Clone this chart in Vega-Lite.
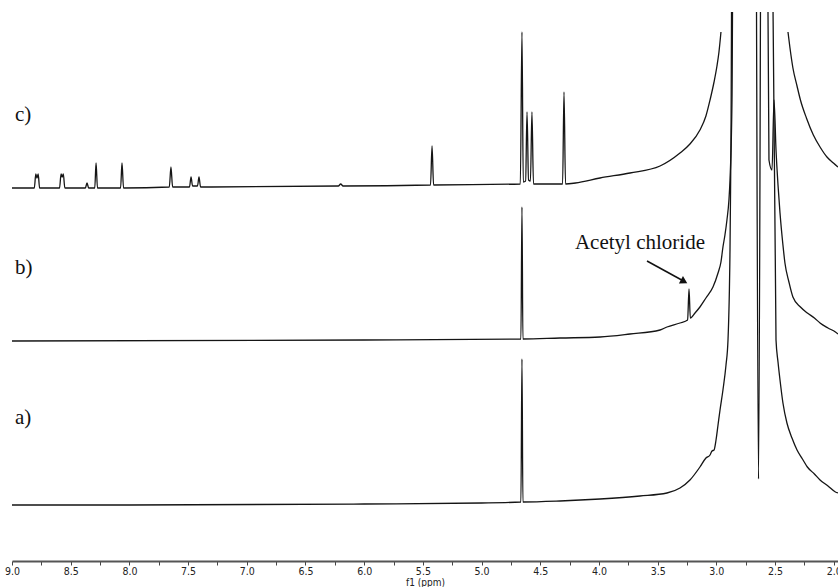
{
  "$schema": "https://vega.github.io/schema/vega-lite/v6.json",
  "width": 826,
  "height": 549,
  "autosize": {"type": "none"},
  "padding": {"left": 12, "top": 12, "right": 0, "bottom": 26},
  "background": "white",
  "config": {"view": {"stroke": null}},
  "datasets": {
    "spec": [
      {"curve": "a", "ppm": 9.0, "v": 60},
      {"curve": "a", "ppm": 8.0, "v": 60},
      {"curve": "a", "ppm": 6.0, "v": 61},
      {"curve": "a", "ppm": 5.0, "v": 62},
      {"curve": "a", "ppm": 4.665, "v": 63},
      {"curve": "a", "ppm": 4.656, "v": 206},
      {"curve": "a", "ppm": 4.648, "v": 63},
      {"curve": "a", "ppm": 4.332, "v": 64},
      {"curve": "a", "ppm": 3.991, "v": 66},
      {"curve": "a", "ppm": 3.651, "v": 69},
      {"curve": "a", "ppm": 3.421, "v": 72},
      {"curve": "a", "ppm": 3.31, "v": 77},
      {"curve": "a", "ppm": 3.225, "v": 85},
      {"curve": "a", "ppm": 3.14, "v": 98},
      {"curve": "a", "ppm": 3.089, "v": 107},
      {"curve": "a", "ppm": 3.054, "v": 110},
      {"curve": "a", "ppm": 3.037, "v": 114},
      {"curve": "a", "ppm": 3.02, "v": 115},
      {"curve": "a", "ppm": 3.003, "v": 125},
      {"curve": "a", "ppm": 2.986, "v": 140},
      {"curve": "a", "ppm": 2.969, "v": 155},
      {"curve": "a", "ppm": 2.944, "v": 175},
      {"curve": "a", "ppm": 2.918, "v": 200},
      {"curve": "a", "ppm": 2.901, "v": 225},
      {"curve": "a", "ppm": 2.884, "v": 315},
      {"curve": "a", "ppm": 2.876, "v": 415},
      {"curve": "a", "ppm": 2.859, "v": 865},
      {"curve": "a", "ppm": 2.671, "v": 865},
      {"curve": "a", "ppm": 2.641, "v": 86},
      {"curve": "a", "ppm": 2.612, "v": 865},
      {"curve": "a", "ppm": 2.543, "v": 865},
      {"curve": "a", "ppm": 2.492, "v": 225},
      {"curve": "a", "ppm": 2.475, "v": 203},
      {"curve": "a", "ppm": 2.458, "v": 185},
      {"curve": "a", "ppm": 2.433, "v": 162},
      {"curve": "a", "ppm": 2.399, "v": 142},
      {"curve": "a", "ppm": 2.356, "v": 127},
      {"curve": "a", "ppm": 2.313, "v": 115},
      {"curve": "a", "ppm": 2.267, "v": 106},
      {"curve": "a", "ppm": 2.225, "v": 98},
      {"curve": "a", "ppm": 2.165, "v": 91},
      {"curve": "a", "ppm": 2.117, "v": 85},
      {"curve": "a", "ppm": 2.049, "v": 79},
      {"curve": "a", "ppm": 1.986, "v": 73},
      {"curve": "a", "ppm": 1.964, "v": 72},

      {"curve": "b", "ppm": 9.0, "v": 224},
      {"curve": "b", "ppm": 6.0, "v": 225},
      {"curve": "b", "ppm": 4.665, "v": 226},
      {"curve": "b", "ppm": 4.656, "v": 358},
      {"curve": "b", "ppm": 4.648, "v": 226},
      {"curve": "b", "ppm": 4.332, "v": 227},
      {"curve": "b", "ppm": 3.991, "v": 228},
      {"curve": "b", "ppm": 3.736, "v": 231},
      {"curve": "b", "ppm": 3.48, "v": 235},
      {"curve": "b", "ppm": 3.421, "v": 238},
      {"curve": "b", "ppm": 3.31, "v": 242},
      {"curve": "b", "ppm": 3.245, "v": 245},
      {"curve": "b", "ppm": 3.233, "v": 276},
      {"curve": "b", "ppm": 3.222, "v": 247},
      {"curve": "b", "ppm": 3.182, "v": 252},
      {"curve": "b", "ppm": 3.14, "v": 258},
      {"curve": "b", "ppm": 3.089, "v": 267},
      {"curve": "b", "ppm": 3.029, "v": 278},
      {"curve": "b", "ppm": 2.986, "v": 292},
      {"curve": "b", "ppm": 2.961, "v": 303},
      {"curve": "b", "ppm": 2.944, "v": 318},
      {"curve": "b", "ppm": 2.927, "v": 330},
      {"curve": "b", "ppm": 2.91, "v": 345},
      {"curve": "b", "ppm": 2.893, "v": 365},
      {"curve": "b", "ppm": 2.884, "v": 385},
      {"curve": "b", "ppm": 2.867, "v": 465},
      {"curve": "b", "ppm": 2.85, "v": 865},
      {"curve": "b", "ppm": 2.578, "v": 865},
      {"curve": "b", "ppm": 2.552, "v": 405},
      {"curve": "b", "ppm": 2.526, "v": 395},
      {"curve": "b", "ppm": 2.509, "v": 465},
      {"curve": "b", "ppm": 2.492, "v": 415},
      {"curve": "b", "ppm": 2.475, "v": 380},
      {"curve": "b", "ppm": 2.458, "v": 352},
      {"curve": "b", "ppm": 2.433, "v": 320},
      {"curve": "b", "ppm": 2.416, "v": 302},
      {"curve": "b", "ppm": 2.382, "v": 283},
      {"curve": "b", "ppm": 2.348, "v": 268},
      {"curve": "b", "ppm": 2.284, "v": 258},
      {"curve": "b", "ppm": 2.225, "v": 252},
      {"curve": "b", "ppm": 2.165, "v": 247},
      {"curve": "b", "ppm": 2.117, "v": 242},
      {"curve": "b", "ppm": 2.049, "v": 237},
      {"curve": "b", "ppm": 1.986, "v": 233},
      {"curve": "b", "ppm": 1.964, "v": 231},

      {"curve": "c-left", "ppm": 9.0, "v": 377},
      {"curve": "c-left", "ppm": 8.81, "v": 377},
      {"curve": "c-left", "ppm": 8.797, "v": 391},
      {"curve": "c-left", "ppm": 8.787, "v": 387},
      {"curve": "c-left", "ppm": 8.777, "v": 391},
      {"curve": "c-left", "ppm": 8.765, "v": 377},
      {"curve": "c-left", "ppm": 8.595, "v": 377},
      {"curve": "c-left", "ppm": 8.582, "v": 391},
      {"curve": "c-left", "ppm": 8.573, "v": 388},
      {"curve": "c-left", "ppm": 8.563, "v": 391},
      {"curve": "c-left", "ppm": 8.55, "v": 377},
      {"curve": "c-left", "ppm": 8.375, "v": 377},
      {"curve": "c-left", "ppm": 8.361, "v": 382},
      {"curve": "c-left", "ppm": 8.347, "v": 377},
      {"curve": "c-left", "ppm": 8.295, "v": 377},
      {"curve": "c-left", "ppm": 8.284, "v": 402},
      {"curve": "c-left", "ppm": 8.272, "v": 377},
      {"curve": "c-left", "ppm": 8.075, "v": 377},
      {"curve": "c-left", "ppm": 8.063, "v": 402},
      {"curve": "c-left", "ppm": 8.05, "v": 377},
      {"curve": "c-left", "ppm": 7.66, "v": 378},
      {"curve": "c-left", "ppm": 7.646, "v": 398},
      {"curve": "c-left", "ppm": 7.632, "v": 378},
      {"curve": "c-left", "ppm": 7.488, "v": 378},
      {"curve": "c-left", "ppm": 7.475, "v": 388},
      {"curve": "c-left", "ppm": 7.462, "v": 379},
      {"curve": "c-left", "ppm": 7.42, "v": 379},
      {"curve": "c-left", "ppm": 7.407, "v": 388},
      {"curve": "c-left", "ppm": 7.394, "v": 378},
      {"curve": "c-left", "ppm": 7.3, "v": 378},
      {"curve": "c-left", "ppm": 6.22, "v": 379},
      {"curve": "c-left", "ppm": 6.2, "v": 381},
      {"curve": "c-left", "ppm": 6.18, "v": 379},
      {"curve": "c-left", "ppm": 5.435, "v": 380},
      {"curve": "c-left", "ppm": 5.422, "v": 419},
      {"curve": "c-left", "ppm": 5.409, "v": 380},
      {"curve": "c-left", "ppm": 4.67, "v": 381},
      {"curve": "c-left", "ppm": 4.656, "v": 533},
      {"curve": "c-left", "ppm": 4.645, "v": 383},
      {"curve": "c-left", "ppm": 4.625, "v": 384},
      {"curve": "c-left", "ppm": 4.613, "v": 453},
      {"curve": "c-left", "ppm": 4.6, "v": 385},
      {"curve": "c-left", "ppm": 4.584, "v": 384},
      {"curve": "c-left", "ppm": 4.571, "v": 453},
      {"curve": "c-left", "ppm": 4.558, "v": 381},
      {"curve": "c-left", "ppm": 4.31, "v": 381},
      {"curve": "c-left", "ppm": 4.298, "v": 473},
      {"curve": "c-left", "ppm": 4.285, "v": 381},
      {"curve": "c-left", "ppm": 4.2, "v": 382},
      {"curve": "c-left", "ppm": 3.991, "v": 387},
      {"curve": "c-left", "ppm": 3.736, "v": 392},
      {"curve": "c-left", "ppm": 3.48, "v": 399},
      {"curve": "c-left", "ppm": 3.31, "v": 412},
      {"curve": "c-left", "ppm": 3.225, "v": 421},
      {"curve": "c-left", "ppm": 3.14, "v": 435},
      {"curve": "c-left", "ppm": 3.089, "v": 449},
      {"curve": "c-left", "ppm": 3.054, "v": 465},
      {"curve": "c-left", "ppm": 3.02, "v": 483},
      {"curve": "c-left", "ppm": 2.995, "v": 499},
      {"curve": "c-left", "ppm": 2.978, "v": 513},
      {"curve": "c-left", "ppm": 2.961, "v": 533},

      {"curve": "c-right", "ppm": 2.39, "v": 533},
      {"curve": "c-right", "ppm": 2.373, "v": 517},
      {"curve": "c-right", "ppm": 2.348, "v": 497},
      {"curve": "c-right", "ppm": 2.313, "v": 479},
      {"curve": "c-right", "ppm": 2.284, "v": 465},
      {"curve": "c-right", "ppm": 2.233, "v": 447},
      {"curve": "c-right", "ppm": 2.174, "v": 430},
      {"curve": "c-right", "ppm": 2.117, "v": 418},
      {"curve": "c-right", "ppm": 2.058, "v": 408},
      {"curve": "c-right", "ppm": 2.003, "v": 402},
      {"curve": "c-right", "ppm": 1.964, "v": 398}
    ],
    "labels": [
      {"text": "c)", "ppm": 8.974, "v": 450},
      {"text": "b)", "ppm": 8.974, "v": 297},
      {"text": "a)", "ppm": 8.974, "v": 147}
    ],
    "note": [
      {"text": "Acetyl chloride", "ppm": 3.651, "v": 322}
    ],
    "arrow": [
      {"ppm": 3.591, "v": 304, "ppm2": 3.28, "v2": 284}
    ],
    "head": [
      {"ppm": 3.275, "v": 283.5}
    ]
  },
  "encoding": {
    "x": {
      "field": "ppm",
      "type": "quantitative",
      "scale": {"domain": [9, 1.964], "nice": false, "zero": false},
      "axis": {
        "values": [9, 8.75, 8.5, 8.25, 8, 7.75, 7.5, 7.25, 7, 6.75, 6.5, 6.25, 6, 5.75, 5.5, 5.25, 5, 4.75, 4.5, 4.25, 4, 3.75, 3.5, 3.25, 3, 2.75, 2.5, 2.25, 2],
        "labelExpr": "round(datum.value*4) % 2 == 0 ? format(datum.value, '.1f') : ''",
        "title": "f1 (ppm)",
        "titleFont": "DejaVu Sans Condensed, Liberation Sans Narrow, DejaVu Sans",
        "titleFontSize": 10,
        "titleFontWeight": "normal",
        "titleColor": "#222",
        "titlePadding": 1,
        "labelFont": "DejaVu Sans Condensed, Liberation Sans Narrow, DejaVu Sans",
        "labelFontSize": 10.5,
        "labelColor": "#222",
        "labelPadding": 1,
        "labelFlush": false,
        "labelOverlap": false,
        "tickSize": 4,
        "tickColor": "#444",
        "tickWidth": 1,
        "domainColor": "#555",
        "domainWidth": 2,
        "grid": false
      }
    },
    "y": {
      "field": "v",
      "type": "quantitative",
      "scale": {"domain": [4, 553], "nice": false, "zero": false},
      "axis": null
    }
  },
  "layer": [
    {
      "data": {"name": "spec"},
      "mark": {"type": "line", "color": "#151515", "strokeWidth": 1.3, "clip": true, "interpolate": "monotone"},
      "encoding": {"detail": {"field": "curve", "type": "nominal"}}
    },
    {
      "data": {"name": "labels"},
      "mark": {"type": "text", "align": "left", "baseline": "middle", "font": "Liberation Serif", "fontSize": 21, "color": "#111"},
      "encoding": {"text": {"field": "text", "type": "nominal"}}
    },
    {
      "data": {"name": "note"},
      "mark": {"type": "text", "align": "center", "baseline": "middle", "font": "Liberation Serif", "fontSize": 21, "color": "#111"},
      "encoding": {"text": {"field": "text", "type": "nominal"}}
    },
    {
      "data": {"name": "arrow"},
      "mark": {"type": "rule", "color": "#111", "strokeWidth": 1.5},
      "encoding": {
        "x2": {"field": "ppm2"},
        "y2": {"field": "v2"}
      }
    },
    {
      "data": {"name": "head"},
      "mark": {"type": "point", "shape": "triangle-right", "filled": true, "color": "#111", "size": 70, "angle": 29, "opacity": 1},
      "encoding": {}
    }
  ]
}
